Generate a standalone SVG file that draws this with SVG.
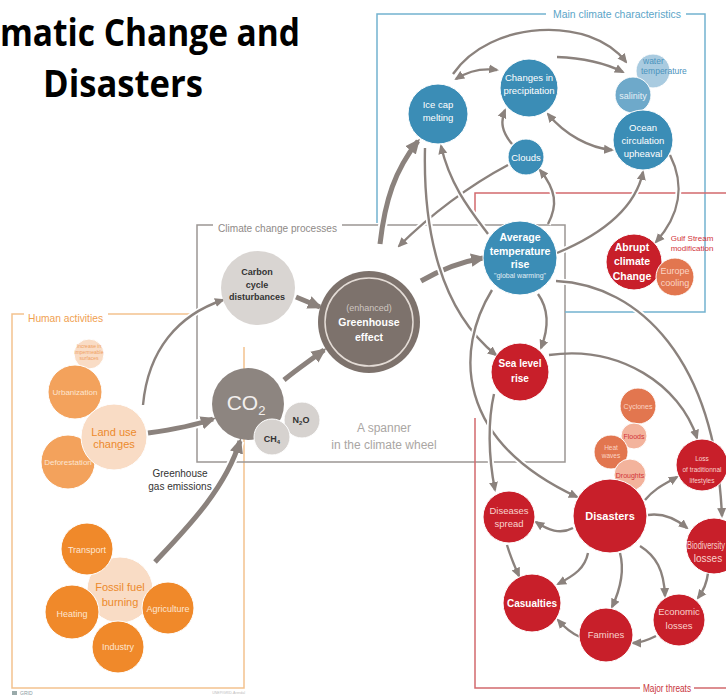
<svg xmlns="http://www.w3.org/2000/svg" width="726" height="698" viewBox="0 0 726 698">
<style>
text{font-family:"Liberation Sans Narrow","Liberation Sans",Arial,sans-serif;text-anchor:middle}
.title{font-family:"Open Sans","Liberation Sans",sans-serif;font-weight:bold;font-size:38px;fill:#000}
.box{fill:none;stroke-width:1.5}
.halo{fill:none;stroke:#fff;stroke-width:6}
.haloK{fill:none;stroke:#fff;stroke-width:9}
.t{fill:none;stroke:#8b827d;stroke-width:2.4;marker-end:url(#a)}
.k{fill:none;stroke:#8b827d;stroke-width:5;marker-end:url(#b)}
.d{marker-start:url(#a)}
.nb{fill:#3b8db6;stroke:#fff;stroke-width:1}
.nr{fill:#c81f2a;stroke:#fff;stroke-width:1}
.ns{fill:#e2764f;stroke:#fff;stroke-width:1}
.np{fill:#f3b39c;stroke:#fff;stroke-width:1}
.no{fill:#f0892a;stroke:#fff;stroke-width:1}
.nm{fill:#f3a25c;stroke:#fff;stroke-width:1}
.nl{fill:#f9dcc5;stroke:#fff;stroke-width:1}
.w{fill:#fff;font-size:9.5px}
.wb{fill:#fff;font-size:10.5px;font-weight:bold}
.lr{fill:#f8d2cc;font-size:9.5px}
.lbl{font-size:11px}
</style>
<defs>
<marker id="a" markerUnits="userSpaceOnUse" markerWidth="10" markerHeight="10" viewBox="0 0 10 10" refX="8" refY="5" orient="auto-start-reverse"><path d="M0,0.5 L10,5 L0,9.5 z" fill="#8b827d"/></marker>
<marker id="b" markerUnits="userSpaceOnUse" markerWidth="15" markerHeight="15" viewBox="0 0 10 10" refX="8" refY="5" orient="auto"><path d="M0,0.5 L10,5 L0,9.5 z" fill="#8b827d"/></marker>
</defs>
<rect width="726" height="698" fill="#fff"/>

<g id="title">
<text class="title" x="300" y="46" style="text-anchor:end" textLength="300" lengthAdjust="spacingAndGlyphs">matic Change and</text>
<text class="title" x="123" y="97" textLength="160" lengthAdjust="spacingAndGlyphs">Disasters</text>
</g>

<g id="frames">
<path class="box" stroke="#f3c28e" d="M24,314 H12 V688 H244 V347 M108,314 H197"/>
<text class="lbl" x="28" y="322" style="text-anchor:start;fill:#f0a050" textLength="75" lengthAdjust="spacingAndGlyphs">Human activities</text>
<path class="box" stroke="#9c9794" d="M213,225 H197 V462 H565 V225 H342"/>
<text class="lbl" x="218" y="232" style="text-anchor:start;fill:#8f8a87" textLength="119" lengthAdjust="spacingAndGlyphs">Climate change processes</text>
<path class="box" stroke="#73b3d0" d="M546,14 H377 V223 M686,14 H705 V312 H565"/>
<text class="lbl" x="553" y="18" style="text-anchor:start;fill:#5ca5c8" textLength="128" lengthAdjust="spacingAndGlyphs">Main climate characteristics</text>
<path class="box" stroke="#d26a6e" d="M475,212 V193 H726 M475,418 V688 H640 M694,688 H726"/>
<text class="lbl" x="643" y="692" style="text-anchor:start;fill:#c8343c" textLength="48" lengthAdjust="spacingAndGlyphs">Major threats</text>
</g>

<g id="connectors">
<path class="halo" d="M143,405 C148,350 178,315 223,300"/>
<path class="t" d="M143,405 C148,350 178,315 223,300"/>
<path class="haloK" d="M148,433 C170,430 190,427 213,419"/>
<path class="k" d="M148,433 C170,430 190,427 213,419"/>
<path class="haloK" d="M155,562 C185,530 225,490 240,441"/>
<path class="k" d="M155,562 C185,530 225,490 240,441"/>
<path class="k" d="M296,297 L320,307"/>
<path class="k" d="M284,380 C296,370 308,362 324,350"/>
<path class="haloK" d="M421,281 C440,270 460,262 483,258"/>
<path class="k" d="M421,281 C440,270 460,262 483,258"/>
<path class="haloK" d="M380,244 C385,200 395,170 418,141"/>
<path class="k" d="M380,244 C385,200 395,170 418,141"/>
<path class="halo" d="M508,165 C470,185 430,215 399,246"/>
<path class="t" d="M508,165 C470,185 430,215 399,246"/>
<path class="halo" d="M425,148 C423,230 440,310 496,355"/>
<path class="t" d="M425,148 C423,230 440,310 496,355"/>
<path class="halo" d="M488,234 C470,210 450,185 441,146"/>
<path class="t" d="M488,234 C470,210 450,185 441,146"/>
<path class="halo" d="M548,224 C558,205 556,190 540,170"/>
<path class="t" d="M548,224 C558,205 556,190 540,170"/>
<path class="t" d="M512,144 C502,132 500,122 505,110"/>
<path class="t d" d="M456,79 C470,70 483,68 497,70"/>
<path class="t" d="M453,74 C490,20 590,15 626,62"/>
<path class="t" d="M557,57 C585,58 605,63 623,72"/>
<path class="t d" d="M548,114 C565,135 590,148 612,150"/>
<path class="halo" d="M557,253 C600,235 635,210 643,172"/>
<path class="t" d="M557,253 C600,235 635,210 643,172"/>
<path class="halo" d="M670,155 C685,185 680,215 656,242"/>
<path class="t" d="M670,155 C685,185 680,215 656,242"/>
<path class="halo" d="M556,281 C640,285 715,360 722,516"/>
<path class="t" d="M556,281 C640,285 715,360 722,516"/>
<path class="t" d="M549,355 C620,345 680,385 697,438"/>
<path class="halo" d="M492,290 C455,350 455,440 577,497"/>
<path class="t" d="M492,290 C455,350 455,440 577,497"/>
<path class="t" d="M538,294 C548,308 550,325 541,348"/>
<path class="halo" d="M494,394 C488,420 488,455 495,490"/>
<path class="t" d="M494,394 C488,420 488,455 495,490"/>
<path class="t" d="M645,500 C655,488 665,484 677,477"/>
<path class="t" d="M648,515 C662,513 675,518 687,528"/>
<path class="t" d="M573,528 C560,535 548,530 536,522"/>
<path class="t" d="M588,553 C585,568 575,575 558,584"/>
<path class="t" d="M620,553 C625,572 620,590 612,607"/>
<path class="t" d="M640,546 C656,556 664,570 665,596"/>
<path class="t" d="M708,573 C707,582 704,590 698,598"/>
<path class="t" d="M656,636 C648,640 641,643 633,643"/>
<path class="t" d="M580,637 C573,634 565,628 558,620"/>
<path class="t" d="M507,545 C510,555 514,565 519,576"/>
</g>

<g id="human">
<g id="n-impermeable"><circle class="nl" cx="89" cy="354" r="15"/>
<text x="89" y="348" style="font-size:5px;fill:#f0a060">Increase in</text><text x="89" y="354" style="font-size:5px;fill:#f0a060">impermeable</text><text x="89" y="360" style="font-size:5px;fill:#f0a060">surfaces</text></g>
<g id="n-urbanization"><circle class="nm" cx="75" cy="392" r="27"/><text x="75" y="395" style="font-size:8px;fill:#fde6d2">Urbanization</text></g>
<g id="n-deforestation"><circle class="nm" cx="68" cy="462" r="27"/><text x="68" y="465" style="font-size:8px;fill:#fde6d2">Deforestation</text></g>
<g id="n-landuse"><circle class="nl" cx="114" cy="437" r="33"/><text x="114" y="436" style="font-size:11px;fill:#ec8a2c">Land use</text><text x="114" y="448" style="font-size:11px;fill:#ec8a2c">changes</text></g>
<text x="180" y="477" style="font-size:10px;fill:#333">Greenhouse</text>
<text x="180" y="490" style="font-size:10px;fill:#333">gas emissions</text>
<g id="n-fossil"><circle class="nl" cx="120" cy="590" r="33"/><text x="120" y="591" style="font-size:11px;fill:#ec8a2c">Fossil fuel</text><text x="120" y="606" style="font-size:11px;fill:#ec8a2c">burning</text></g>
<g id="n-transport"><circle class="no" cx="87" cy="549" r="26"/><text x="87" y="553" style="font-size:9px;fill:#fde6d2">Transport</text></g>
<g id="n-heating"><circle class="no" cx="72" cy="612" r="27"/><text x="72" y="617" style="font-size:9px;fill:#fde6d2">Heating</text></g>
<g id="n-agriculture"><circle class="no" cx="168" cy="608" r="26"/><text x="168" y="612" style="font-size:9px;fill:#fde6d2">Agriculture</text></g>
<g id="n-industry"><circle class="no" cx="118" cy="647" r="26"/><text x="118" y="650" style="font-size:9px;fill:#fde6d2">Industry</text></g>
</g>

<g id="processes">
<g id="n-carbon"><circle cx="258" cy="288" r="37" fill="#d9d5d2"/>
<text x="257" y="275" style="font-size:9px;font-weight:bold;fill:#333">Carbon</text><text x="257" y="288" style="font-size:9px;font-weight:bold;fill:#333">cycle</text><text x="257" y="300" style="font-size:9px;font-weight:bold;fill:#333">disturbances</text></g>
<g id="n-greenhouse"><circle cx="369" cy="322" r="51" fill="#7d726c"/><circle cx="369" cy="322" r="44" fill="none" stroke="#e4dcd6" stroke-width="1.5"/>
<text x="369" y="311" style="font-size:9px;fill:#cfc6c0">(enhanced)</text><text x="369" y="326" class="wb">Greenhouse</text><text x="369" y="341" class="wb">effect</text></g>
<g id="n-co2"><circle cx="248" cy="404" r="36" fill="#8d8580"/>
<text x="246" y="410" style="font-size:21px;fill:#f2efed">CO<tspan dy="5" style="font-size:13px">2</tspan></text></g>
<g id="n-n2o"><circle cx="302" cy="420" r="18" fill="#d6d2cf" stroke="#fff" stroke-width="1"/><text x="301" y="423" style="font-size:9px;font-weight:bold;fill:#333">N<tspan dy="2" style="font-size:6px">2</tspan><tspan dy="-2">O</tspan></text></g>
<g id="n-ch4"><circle cx="272" cy="437" r="18" fill="#d6d2cf" stroke="#fff" stroke-width="1"/><text x="272" y="442" style="font-size:9px;font-weight:bold;fill:#333">CH<tspan dy="2" style="font-size:6px">4</tspan></text></g>
<text x="384" y="432" style="font-size:12px;fill:#aaa6a3">A spanner</text>
<text x="384" y="449" style="font-size:12px;fill:#aaa6a3">in the climate wheel</text>
</g>

<g id="climate">
<g id="n-icecap"><circle class="nb" cx="438" cy="114" r="30"/><text class="w" x="438" y="108">Ice cap</text><text class="w" x="438" y="121">melting</text></g>
<g id="n-precip"><circle class="nb" cx="529" cy="88" r="29"/><text class="w" x="529" y="81">Changes in</text><text class="w" x="529" y="94">precipitation</text></g>
<g id="n-clouds"><circle class="nb" cx="526" cy="157" r="18"/><text class="w" x="526" y="161">Clouds</text></g>
<g id="n-watertemp"><circle cx="653" cy="71" r="17" fill="#a9cbe0" stroke="#fff" stroke-width="1"/><text x="643" y="64" style="font-size:8.5px;fill:#4b93bd;text-anchor:start">water</text><text x="641" y="74" style="font-size:8.5px;fill:#4b93bd;text-anchor:start">temperature</text></g>
<g id="n-salinity"><circle cx="633" cy="95" r="18" fill="#6ea9ca" stroke="#fff" stroke-width="1"/><text x="633" y="99" style="font-size:9px;fill:#e6f0f6">salinity</text></g>
<g id="n-ocean"><circle class="nb" cx="643" cy="140" r="30"/><text class="w" x="643" y="131">Ocean</text><text class="w" x="643" y="144">circulation</text><text class="w" x="643" y="157">upheaval</text></g>
<g id="n-avgtemp"><circle class="nb" cx="520" cy="258" r="37"/><text class="wb" x="520" y="241">Average</text><text class="wb" x="520" y="255">temperature</text><text class="wb" x="520" y="268">rise</text><text x="520" y="278" style="font-size:7px;fill:#e1eef5">"global warming"</text></g>
</g>

<g id="threats">
<g id="n-abrupt"><circle class="nr" cx="634" cy="262" r="28"/><text class="wb" x="632" y="251">Abrupt</text><text class="wb" x="632" y="265">climate</text><text class="wb" x="632" y="280">Change</text></g>
<g id="n-europe"><circle class="ns" cx="675" cy="277" r="19"/><text x="675" y="274" style="font-size:9px;fill:#fbd4c4">Europe</text><text x="675" y="286" style="font-size:9px;fill:#fbd4c4">cooling</text></g>
<text x="692" y="241" style="font-size:8px;fill:#d2343a">Gulf Stream</text>
<text x="692" y="251" style="font-size:8px;fill:#d2343a">modification</text>
<g id="n-sealevel"><circle class="nr" cx="520" cy="372" r="29"/><text class="wb" x="520" y="367" style="font-size:10px">Sea level</text><text class="wb" x="520" y="382" style="font-size:10px">rise</text></g>
<g id="n-cyclones"><circle class="ns" cx="638" cy="406" r="18"/><text x="638" y="409" style="font-size:7px;fill:#fbd4c4">Cyclones</text></g>
<g id="n-floods"><circle class="np" cx="634" cy="436" r="13"/><text x="634" y="439" style="font-size:7px;fill:#d2343a">Floods</text></g>
<g id="n-heat"><circle class="ns" cx="611" cy="452" r="17"/><text x="611" y="450" style="font-size:6.5px;fill:#fbd4c4">Heat</text><text x="611" y="458" style="font-size:6.5px;fill:#fbd4c4">waves</text></g>
<g id="n-droughts"><circle class="np" cx="630" cy="475" r="16"/><text x="630" y="478" style="font-size:7px;fill:#d2343a">Droughts</text></g>
<g id="n-disasters"><circle class="nr" cx="610" cy="516" r="37"/><text class="wb" x="610" y="520" style="font-size:11px">Disasters</text></g>
<g id="n-loss"><circle class="nr" cx="702" cy="465" r="26"/><text x="702" y="461" style="font-size:6.5px;fill:#f8d2cc">Loss</text><text x="702" y="472" style="font-size:6.5px;fill:#f8d2cc">of traditionnal</text><text x="702" y="483" style="font-size:6.5px;fill:#f8d2cc">lifestyles</text></g>
<g id="n-diseases"><circle class="nr" cx="509" cy="517" r="26"/><text class="lr" x="509" y="514">Diseases</text><text class="lr" x="509" y="527">spread</text></g>
<g id="n-biodiversity"><circle class="nr" cx="714" cy="546" r="28"/><text class="lr" x="687" y="549" style="text-anchor:start;font-size:10px" textLength="38" lengthAdjust="spacingAndGlyphs">Biodiversity</text><text class="lr" x="708" y="562" style="font-size:10px">losses</text></g>
<g id="n-casualties"><circle class="nr" cx="532" cy="603" r="29"/><text class="wb" x="532" y="607" style="font-size:10px">Casualties</text></g>
<g id="n-famines"><circle class="nr" cx="606" cy="635" r="27"/><text class="lr" x="606" y="638">Famines</text></g>
<g id="n-economic"><circle class="nr" cx="679" cy="620" r="26"/><text class="lr" x="679" y="615">Economic</text><text class="lr" x="679" y="629">losses</text></g>
</g>

<g id="footer">
<rect x="12" y="691" width="5" height="4" fill="#9aa"/>
<text x="20" y="695" style="font-size:5px;fill:#8a9aa0;text-anchor:start">GRID</text>
<text x="245" y="694" style="font-size:3.5px;fill:#bbb;text-anchor:end">UNEP/GRID-Arendal</text>
</g>
</svg>
